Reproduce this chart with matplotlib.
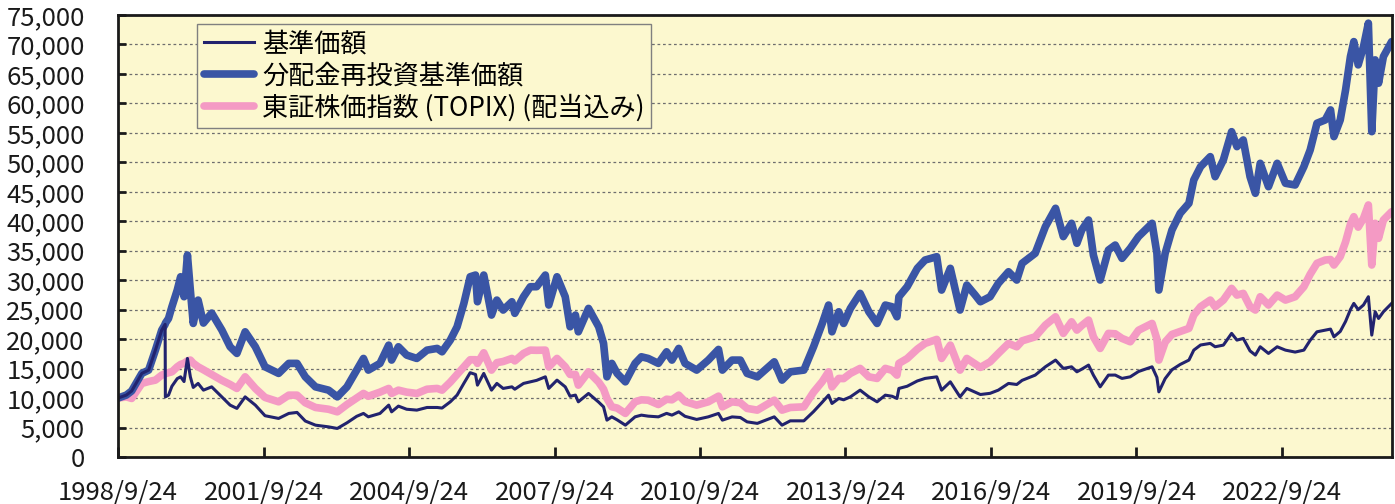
import matplotlib
matplotlib.use("Agg")
import matplotlib.pyplot as plt
from matplotlib.ticker import FuncFormatter, MultipleLocator

plt.rcParams["font.family"] = ["Noto Sans CJK JP", "DejaVu Sans"]

# 日付（小数年）と各系列の値（1998/9/24 = 10,000）
dates = [
    1998.73, 1998.90, 1999.01, 1999.22, 1999.36, 1999.50, 1999.63, 1999.700, 1999.705, 1999.77,
    1999.84, 1999.95, 2000.02, 2000.09, 2000.16, 2000.22, 2000.28, 2000.38, 2000.49, 2000.66,
    2000.87, 2001.04, 2001.18, 2001.35, 2001.56, 2001.76, 2002.04, 2002.25, 2002.42, 2002.59,
    2002.80, 2003.07, 2003.25, 2003.45, 2003.65, 2003.79, 2003.89, 2004.13, 2004.31, 2004.37,
    2004.51, 2004.68, 2004.89, 2005.10, 2005.31, 2005.41, 2005.58, 2005.72, 2005.86, 2005.99,
    2006.10, 2006.14, 2006.27, 2006.43, 2006.54, 2006.67, 2006.85, 2006.91, 2007.09, 2007.23,
    2007.36, 2007.54, 2007.61, 2007.78, 2007.95, 2008.05, 2008.16, 2008.22, 2008.43, 2008.64,
    2008.74, 2008.81, 2008.91, 2009.02, 2009.19, 2009.39, 2009.52, 2009.66, 2009.87, 2010.04,
    2010.15, 2010.29, 2010.42, 2010.66, 2010.90, 2011.11, 2011.19, 2011.39, 2011.56, 2011.70,
    2011.91, 2012.26, 2012.42, 2012.59, 2012.87, 2013.07, 2013.25, 2013.38, 2013.45, 2013.59,
    2013.69, 2013.83, 2014.03, 2014.21, 2014.38, 2014.55, 2014.69, 2014.79, 2014.83, 2015.00,
    2015.21, 2015.37, 2015.61, 2015.71, 2015.89, 2016.09, 2016.23, 2016.40, 2016.51, 2016.71,
    2016.88, 2017.09, 2017.26, 2017.37, 2017.64, 2017.85, 2018.06, 2018.22, 2018.39, 2018.50,
    2018.60, 2018.74, 2018.84, 2018.98, 2019.15, 2019.29, 2019.43, 2019.60, 2019.77, 2020.05,
    2020.15, 2020.19, 2020.32, 2020.46, 2020.63, 2020.81, 2020.91, 2021.05, 2021.25, 2021.35,
    2021.52, 2021.69, 2021.80, 2021.93, 2022.07, 2022.18, 2022.28, 2022.45, 2022.63, 2022.80,
    2023.00, 2023.18, 2023.31, 2023.45, 2023.62, 2023.73, 2023.80, 2023.93, 2024.04, 2024.14,
    2024.21, 2024.30, 2024.41, 2024.51, 2024.58, 2024.65, 2024.72, 2024.82, 2024.99,
]

nav_reinvested = [
    10000, 10500, 11200, 14180, 14740, 18130, 21530, 22500, 22700, 23500,
    25490, 28320, 30580, 27190, 34270, 28320, 22660, 26620, 22720, 24420,
    21530, 18700, 17570, 21240, 18700, 15300, 14180, 15880, 15880, 13600,
    11900, 11340, 10200, 11900, 14740, 16720, 14740, 15880, 18980, 16440,
    18700, 17290, 16720, 18130, 18420, 17850, 19830, 22090, 26060, 30580,
    30870, 26340, 30870, 24080, 26620, 24930, 26340, 24370, 27190, 28890,
    28890, 30870, 25780, 30580, 27190, 22090, 24080, 21240, 25210, 22090,
    19270, 13600, 15880, 14180, 12750, 15880, 17000, 16720, 15880, 17850,
    16440, 18420, 15880, 14740, 16440, 18250, 14740, 16440, 16440, 14180,
    13600, 16150, 13040, 14450, 14740, 18700, 22660, 25780, 21240, 24640,
    22660, 25210, 27760, 24640, 22660, 25780, 25490, 23790, 27190, 28890,
    32010, 33420, 33980, 28320, 32010, 24930, 29170, 27500, 26340, 27190,
    29460, 31430, 30020, 32860, 34560, 39080, 42200, 37390, 39650, 36260,
    38510, 40210, 34270, 30020, 35110, 35960, 33700, 35400, 37390, 39650,
    34560, 28320, 34560, 38510, 41350, 43050, 47000, 49260, 50960, 47560,
    50400, 55200, 52660, 53790, 47560, 44740, 49830, 45860, 49830, 46440,
    46150, 49260, 52090, 56630, 57190, 58890, 54360, 57190, 62280, 67940,
    70480, 66530, 69640, 73610, 55200, 67380, 63420, 67940, 70480,
]

nav = [
    10000, 10500, 11200, 14180, 14740, 18130, 21530, 22500, 10200, 10490,
    12000, 13300, 13600, 12800, 16720, 13600, 11800, 12480, 11340, 11900,
    10200, 8800, 8240, 10200, 8800, 7000, 6540, 7390, 7560, 6100,
    5400, 5110, 4840, 5800, 6900, 7390, 6810, 7390, 8800, 7660,
    8630, 8100, 7950, 8400, 8400, 8300, 9360, 10500, 12500, 14300,
    14000, 12190, 14180, 11340, 12480, 11630, 11900, 11500, 12480, 12750,
    13000, 13600, 11630, 13040, 11900, 10300, 10500, 9360, 10780, 9300,
    8500, 6250, 6810, 6300, 5400, 6810, 7100, 6930, 6810, 7400,
    7100, 7660, 6900, 6370, 6810, 7390, 6250, 6800, 6700, 5960,
    5700, 6810, 5400, 6130, 6130, 7700, 9300, 10490, 9080, 9930,
    9700, 10200, 11340, 10200, 9360, 10490, 10300, 9930, 11630, 12000,
    12900, 13330, 13600, 11340, 12750, 10200, 11630, 11000, 10600, 10800,
    11340, 12480, 12300, 13000, 13890, 15300, 16440, 15030, 15300, 14450,
    14900, 15590, 13890, 11900, 13890, 13900, 13330, 13600, 14500, 15300,
    13500, 11050, 13300, 14800, 15700, 16440, 18130, 19000, 19270, 18700,
    18980, 20970, 19830, 20120, 18000, 17290, 18700, 17570, 18700, 18130,
    17800, 18130, 19800, 21240, 21530, 21700, 20390, 21300, 23000, 25000,
    26060, 25000, 25800, 27190, 20680, 24640, 23500, 24640, 26060,
]

topix = [
    10000, 10200, 9930, 12480, 12800, 13040, 13890, 14100, 14150, 14300,
    14450, 15300, 15700, 15900, 16300, 16440, 15900, 15300, 14800, 14000,
    13000, 12300, 11630, 13600, 11630, 10100, 9360, 10490, 10490, 9200,
    8400, 8100, 7660, 8900, 10000, 10780, 10300, 11000, 11630, 10780,
    11340, 11000, 10780, 11500, 11630, 11340, 12700, 14000, 15300, 16500,
    16500, 15880, 17680, 14740, 16000, 16200, 16720, 16300, 17570, 18130,
    18100, 18130, 15300, 16720, 15300, 14000, 14000, 12190, 14450, 12700,
    11500, 9930, 8510, 8300, 7390, 9360, 9700, 9640, 8900, 9800,
    9700, 10490, 9400, 8800, 9360, 10320, 8510, 9360, 9200, 8240,
    7950, 9640, 7950, 8400, 8510, 11000, 12800, 14450, 11900, 13330,
    13300, 14180, 15030, 13600, 13330, 15030, 14700, 13890, 15880, 16700,
    18300, 19270, 19950, 16720, 18980, 14740, 16720, 15800, 15200, 16150,
    17570, 19270, 18700, 19700, 20390, 22380, 23790, 20970, 22940, 21530,
    22300, 23230, 20390, 18420, 20970, 20900, 20120, 19550, 21500, 22660,
    20000, 16440, 19500, 20800, 21300, 21820, 24080, 25500, 26620, 25490,
    26620, 28610, 27470, 27760, 25500, 24930, 27190, 25780, 27470, 26620,
    27190, 28890, 31000, 32860, 33420, 33500, 32570, 34000, 36500, 39500,
    40770, 39000, 40500, 42760, 32570, 39650, 37100, 40210, 41620,
]

tick_labels = ["1998/9/24", "2001/9/24", "2004/9/24", "2007/9/24", "2010/9/24",
               "2013/9/24", "2016/9/24", "2019/9/24", "2022/9/24"]


def to_year(label):
    y, m, d = (int(v) for v in label.split("/"))
    days = [0, 31, 59, 90, 120, 151, 181, 212, 243, 273, 304, 334][m - 1] + d - 1
    return y + days / 365.0


fig = plt.figure(figsize=(13.95, 5.04), dpi=100)
ax = fig.add_axes([0.0846, 0.0933, 0.913, 0.877])
ax.set_facecolor("#FCF8CF")

ax.plot(dates, topix, color="#F49AC4", lw=5.5, solid_joinstyle="round",
        solid_capstyle="round", zorder=3, label="東証株価指数 (TOPIX) (配当込み)")
ax.plot(dates, nav_reinvested, color="#3A55A5", lw=5.5, solid_joinstyle="round",
        solid_capstyle="round", zorder=4, label="分配金再投資基準価額")
ax.plot(dates, nav, color="#22236E", lw=2.2, zorder=5, label="基準価額")

ax.set_xlim(to_year(tick_labels[0]), dates[-1])
ax.set_ylim(0, 75000)
ax.yaxis.set_major_locator(MultipleLocator(5000))
ax.yaxis.set_major_formatter(FuncFormatter(lambda v, p: f"{int(v):,}"))
ax.set_xticks([to_year(t) for t in tick_labels])
ax.set_xticklabels(tick_labels)

ax.grid(axis="y", color="#6E6E6E", linestyle=(0, (2.2, 2.2)), linewidth=0.9, zorder=1)
ax.set_axisbelow(True)

for s in ax.spines.values():
    s.set_linewidth(2.0)
    s.set_color("#1A1A1A")
    s.set_zorder(6)
ax.tick_params(axis="y", direction="in", length=6, width=2, pad=24, labelsize=18.5,
               colors="#1A1A1A")
ax.tick_params(axis="x", direction="in", length=7, width=2, pad=16, labelsize=18.5,
               colors="#1A1A1A")

handles, labels = ax.get_legend_handles_labels()
order = [2, 1, 0]
leg = ax.legend([handles[i] for i in order], [labels[i] for i in order],
                loc="upper left", bbox_to_anchor=(0.062, 0.98), borderaxespad=0,
                fancybox=False, frameon=True, framealpha=1, facecolor="#FCF8CF",
                edgecolor="#808080", fontsize=18.8, handlelength=1.95,
                handletextpad=0.3, labelspacing=0.18, borderpad=0.25)
leg.get_frame().set_linewidth(1.0)
leg.set_zorder(7)

fig.savefig("out.png", dpi=100)
